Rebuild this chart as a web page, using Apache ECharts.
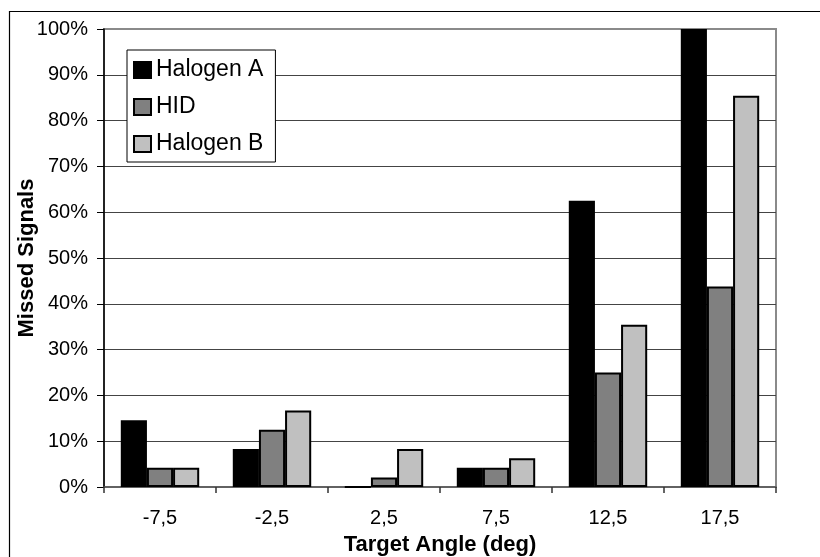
<!DOCTYPE html>
<html>
<head>
<meta charset="utf-8">
<script src="https://cdn.jsdelivr.net/npm/echarts@6/dist/echarts.min.js"></script>
<style>
  html, body { margin: 0; padding: 0; background: #fff; }
  #chart { width: 820px; height: 557px; }
</style>
</head>
<body>
<div id="chart"></div>
<script>
// Target angles (deg) and share of missed signals (%) per headlamp type
const categories = ['-7,5', '-2,5', '2,5', '7,5', '12,5', '17,5'];
const halogenA = [14.6, 8.3, 0, 4.2, 62.5, 100];
const hid = [4.2, 12.5, 2.1, 4.2, 25.0, 43.8];
const halogenB = [4.2, 16.7, 8.3, 6.3, 35.4, 85.4];
const seriesNames = ['Halogen A', 'HID', 'Halogen B'];
const seriesColors = ['#000000', '#808080', '#c0c0c0'];

const FONT = '"Liberation Sans", Arial, sans-serif';

const chart = echarts.init(document.getElementById('chart'), null, { renderer: 'canvas' });

function barSeries(name, data, color) {
  return {
    name: name,
    type: 'bar',
    data: data,
    barGap: '0%',
    barCategoryGap: '30%',
    itemStyle: { color: color, borderColor: '#000', borderWidth: 2 },
    emphasis: { disabled: true }
  };
}

chart.setOption({
  animation: false,
  backgroundColor: '#fff',
  textStyle: { fontFamily: FONT },
  grid: {
    left: 104, top: 29, right: 44, bottom: 70,
    containLabel: false,
    outerBoundsMode: 'none',
    show: true, borderColor: '#8a8a8a', borderWidth: 2, backgroundColor: 'transparent'
  },
  legend: {
    orient: 'vertical',
    left: 127, top: 50,
    backgroundColor: '#fff',
    borderColor: '#000', borderWidth: 1,
    borderRadius: 0,
    padding: [8, 12, 6, 6],
    itemWidth: 17, itemHeight: 16, itemGap: 13,
    icon: 'rect',
    textStyle: { fontFamily: FONT, fontSize: 23, color: '#000', lineHeight: 24 },
    data: seriesNames
  },
  xAxis: {
    type: 'category',
    data: categories,
    name: 'Target Angle (deg)',
    nameLocation: 'middle',
    nameGap: 47,
    nameMoveOverlap: false,
    nameTextStyle: { fontFamily: FONT, fontSize: 22, fontWeight: 'bold', color: '#000' },
    axisLine: { show: true, lineStyle: { color: '#555', width: 1.5 } },
    axisTick: { show: true, length: 6, lineStyle: { color: '#333', width: 1.5 } },
    axisLabel: { fontFamily: FONT, fontSize: 20, color: '#000', margin: 21, lineHeight: 20 },
    splitLine: { show: false }
  },
  yAxis: {
    type: 'value',
    min: 0, max: 100, interval: 10,
    name: 'Missed Signals',
    nameLocation: 'middle',
    nameGap: 66,
    nameRotate: 90,
    nameMoveOverlap: false,
    nameTextStyle: { fontFamily: FONT, fontSize: 22, fontWeight: 'bold', color: '#000' },
    axisLine: { show: true, lineStyle: { color: '#000', width: 1.5 } },
    axisTick: { show: true, length: 7, lineStyle: { color: '#000', width: 1 } },
    axisLabel: { fontFamily: FONT, fontSize: 20, color: '#000', margin: 16, formatter: '{value}%' },
    splitLine: { show: true, showMinLine: false, showMaxLine: false, lineStyle: { color: '#444', width: 1.2 } }
  },
  series: [
    barSeries(seriesNames[0], halogenA, seriesColors[0]),
    barSeries(seriesNames[1], hid, seriesColors[1]),
    barSeries(seriesNames[2], halogenB, seriesColors[2])
  ],
  graphic: [{
    type: 'rect',
    silent: true,
    z: 100,
    shape: { x: 9.5, y: 11.5, width: 900, height: 700 },
    style: { fill: 'none', stroke: '#000', lineWidth: 1.2 }
  }]
});
</script>
</body>
</html>
